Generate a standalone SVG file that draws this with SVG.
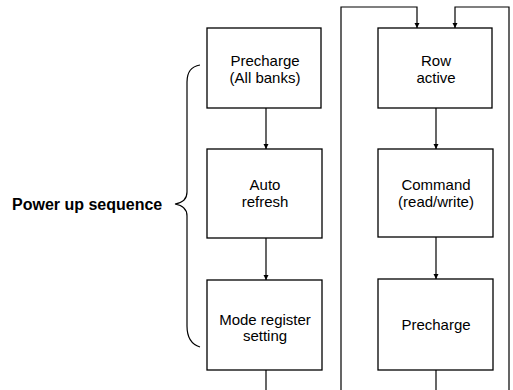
<svg xmlns="http://www.w3.org/2000/svg" width="513" height="390" viewBox="0 0 513 390">
<style>
.box{fill:#fff;stroke:#000;stroke-width:1.3}
.t{font-family:"Liberation Sans",Arial,sans-serif;font-size:15px;text-anchor:middle;fill:#000}
.c{fill:none;stroke:#000;stroke-width:1.2}
</style>
<defs>
<marker id="ah" viewBox="0 0 10 10" refX="10" refY="5" markerWidth="5" markerHeight="6" markerUnits="userSpaceOnUse" orient="auto">
<path d="M0,0 L10,5 L0,10 z" fill="#000"/>
</marker>
</defs>
<rect width="513" height="390" fill="#fff"/>
<g id="connectors">
<line class="c" x1="266" y1="108" x2="266" y2="149" marker-end="url(#ah)"/>
<line class="c" x1="266" y1="238" x2="266" y2="280" marker-end="url(#ah)"/>
<line class="c" x1="266" y1="370" x2="266" y2="390"/>
<line class="c" x1="436" y1="108" x2="436" y2="149" marker-end="url(#ah)"/>
<line class="c" x1="436" y1="237" x2="436" y2="279" marker-end="url(#ah)"/>
<line class="c" x1="436" y1="370" x2="436" y2="390"/>
<path class="c" d="M341,390 V7 H417 V28" marker-end="url(#ah)"/>
<path class="c" d="M509,390 V7 H455 V28" marker-end="url(#ah)"/>
</g>
<g id="precharge-all">
<rect class="box" x="207" y="28" width="114" height="80"/>
<text class="t" x="265" y="66">Precharge</text>
<text class="t" x="265" y="83">(All banks)</text>
</g>
<g id="auto-refresh">
<rect class="box" x="207" y="149" width="115" height="89"/>
<text class="t" x="265" y="190">Auto</text>
<text class="t" x="265" y="207">refresh</text>
</g>
<g id="mode-register">
<rect class="box" x="207" y="280" width="115" height="90"/>
<text class="t" x="265" y="325">Mode register</text>
<text class="t" x="265" y="341">setting</text>
</g>
<g id="row-active">
<rect class="box" x="378" y="28" width="114" height="80"/>
<text class="t" x="436" y="66">Row</text>
<text class="t" x="436" y="83">active</text>
</g>
<g id="command">
<rect class="box" x="378" y="149" width="115" height="88"/>
<text class="t" x="436" y="190">Command</text>
<text class="t" x="436" y="207">(read/write)</text>
</g>
<g id="precharge">
<rect class="box" x="378" y="279" width="115" height="91"/>
<text class="t" x="436" y="330">Precharge</text>
</g>
<g id="power-up">
<path class="c" d="M200,65 Q187,67 187,82 V192 Q187,202 175,204 Q187,206 187,216 V326 Q187,343 200,347"/>
<text x="12" y="210" font-family="'Liberation Sans',Arial,sans-serif" font-size="16" font-weight="bold" fill="#000">Power up sequence</text>
</g>
</svg>
